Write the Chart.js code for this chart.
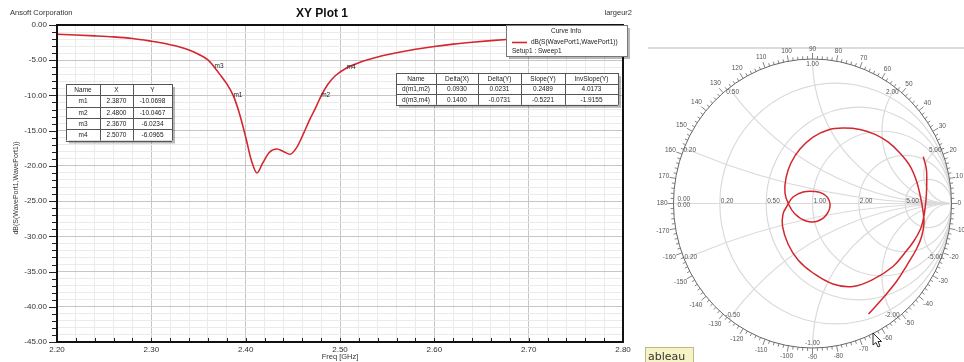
<!DOCTYPE html>
<html>
<head>
<meta charset="utf-8">
<script src="https://cdn.jsdelivr.net/npm/chart.js@4.4.1/dist/chart.umd.min.js"></script>
<style>
  html, body { margin: 0; padding: 0; background: #fff; overflow: hidden; }
  #wrap { position: relative; width: 964px; height: 362px; }
  #xyPlot { position: absolute; left: 0; top: 0; }
  #smith { position: absolute; left: 640px; top: 0; }
</style>
</head>
<body>
<div id="wrap">
  <canvas id="xyPlot" width="640" height="362"></canvas>
  <canvas id="smith" width="324" height="362"></canvas>
</div>
<script>
const FONT = '"Liberation Sans", Arial, sans-serif';

// S11 sweep
const freqGHz = [2.20, 2.22, 2.24, 2.26, 2.28, 2.30, 2.31, 2.32, 2.33, 2.34,
  2.35, 2.36, 2.367, 2.374, 2.38, 2.387, 2.393, 2.40, 2.406, 2.412,
  2.418, 2.425, 2.433, 2.44, 2.447, 2.454, 2.461, 2.468, 2.474, 2.48,
  2.487, 2.495, 2.507, 2.52, 2.54, 2.56, 2.58, 2.60, 2.62, 2.64,
  2.66, 2.68, 2.70, 2.72, 2.74, 2.76, 2.78, 2.80];
const s11dB = [-1.32, -1.42, -1.54, -1.69, -1.92, -2.30, -2.52, -2.80, -3.12, -3.55,
  -4.15, -4.95, -6.0234, -7.25, -8.35, -10.0698, -12.4, -15.9, -19.2, -21.0,
  -19.6, -18.1, -17.6, -17.95, -18.35, -17.4, -15.5, -13.4, -11.8, -10.0467,
  -8.45, -7.2, -6.0965, -5.35, -4.55, -3.95, -3.45, -3.05, -2.72, -2.45,
  -2.22, -2.02, -1.86, -1.73, -1.62, -1.54, -1.47, -1.42];

// markers
const markerNames = ['m1', 'm2', 'm3', 'm4'];
const markerFreq = [2.387, 2.48, 2.367, 2.507];
const markerDB = [-10.0698, -10.0467, -6.0234, -6.0965];

// marker deltas
const deltaHeader = ['Name', 'Delta(X)', 'Delta(Y)', 'Slope(Y)', 'InvSlope(Y)'];
const deltaM1M2 = ['d(m1,m2)', '0.0930', '0.0231', '0.2489', '4.0173'];
const deltaM3M4 = ['d(m3,m4)', '0.1400', '-0.0731', '-0.5221', '-1.9155'];

// axes
const freqRange = [2.2, 2.8];
const dbRange = [-45, 0];
const freqStep = 0.02;

// Smith chart: reflection coefficient along the sweep
const smithRe = [0.797, 0.819, 0.822, 0.819, 0.811, 0.799, 0.777, 0.727, 0.658, 0.579,
  0.442, 0.291, 0.147, 0.004, -0.104, -0.176, -0.216, -0.212, -0.183, -0.140,
  -0.068, 0.018, 0.090, 0.126, 0.104, 0.040, -0.047, -0.126, -0.173, -0.198,
  -0.191, -0.155, -0.090, 0.004, 0.112, 0.219, 0.342, 0.450, 0.543, 0.629,
  0.701, 0.748, 0.777, 0.795, 0.802, 0.784, 0.748, 0.680, 0.604, 0.507, 0.403];
const smithIm = [0.324, 0.239, 0.149, 0.059, -0.024, -0.100, -0.176, -0.263, -0.349, -0.436,
  -0.522, -0.574, -0.557, -0.481, -0.391, -0.280, -0.156, -0.073, -0.017, 0.045,
  0.080, 0.083, 0.059, -0.003, -0.073, -0.121, -0.121, -0.073, -0.003, 0.073,
  0.176, 0.280, 0.377, 0.460, 0.509, 0.522, 0.512, 0.478, 0.426, 0.349,
  0.260, 0.156, 0.045, -0.052, -0.135, -0.232, -0.315, -0.426, -0.540, -0.654, -0.765];
const smithGridValues = [0.2, 0.5, 1, 2, 5];
const smithGridLabels = ['0.20', '0.50', '1.00', '2.00', '5.00'];
const degreeLabels = [180, 170, 160, 150, 140, 130, 120, 110, 100, 90, 80, 70, 60, 50, 40, 30, 20, 10, 0,
  -10, -20, -30, -40, -50, -60, -70, -80, -90, -100, -110, -120, -130, -140, -150, -160, -170];

function hline(ctx, x1, x2, y) {
  ctx.beginPath(); ctx.moveTo(x1, y); ctx.lineTo(x2, y); ctx.stroke();
}
function vline(ctx, x, y1, y2) {
  ctx.beginPath(); ctx.moveTo(x, y1); ctx.lineTo(x, y2); ctx.stroke();
}

function drawTable(ctx, cols, top, rowH, rows) {
  const left = cols[0], right = cols[cols.length - 1];
  const bottom = top + rowH * rows.length;
  ctx.fillStyle = 'rgba(0,0,0,0.28)';
  ctx.fillRect(left + 3, top + 3, right - left, bottom - top);
  ctx.fillStyle = '#fff';
  ctx.fillRect(left, top, right - left, bottom - top);
  ctx.strokeStyle = '#555';
  ctx.lineWidth = 1;
  for (let i = 0; i <= rows.length; i++) hline(ctx, left, right, Math.round(top + i * rowH) + 0.5);
  cols.forEach(c => vline(ctx, Math.round(c) + 0.5, top, bottom));
  ctx.fillStyle = '#222';
  ctx.font = '6.5px ' + FONT;
  ctx.textAlign = 'center';
  ctx.textBaseline = 'middle';
  rows.forEach((row, r) => {
    row.forEach((txt, c) => {
      ctx.fillText(txt, (cols[c] + cols[c + 1]) / 2, top + rowH * (r + 0.5) + 0.5);
    });
  });
}

const isMajorDb = v => v % 5 === 0;
const isMajorFreq = v => Math.abs(v * 10 - Math.round(v * 10)) < 1e-6;

const xyDecor = {
  id: 'xyDecor',
  afterDraw(chart) {
    const { ctx, chartArea: a, scales: { x, y } } = chart;
    ctx.save();

    // axis ticks: outward on the left, inward along the bottom
    ctx.strokeStyle = '#222';
    ctx.lineWidth = 1;
    for (let v = dbRange[0]; v <= dbRange[1]; v++) {
      const py = Math.round(y.getPixelForValue(v)) + 0.5;
      hline(ctx, a.left - (isMajorDb(v) ? 8 : 5), a.left, py);
    }
    const nFreq = Math.round((freqRange[1] - freqRange[0]) / freqStep);
    for (let i = 0; i <= nFreq; i++) {
      const px = Math.round(x.getPixelForValue(freqRange[0] + i * freqStep)) + 0.5;
      vline(ctx, px, a.bottom - 4, a.bottom);
    }

    // plot frame
    ctx.strokeStyle = '#111';
    ctx.lineWidth = 2;
    ctx.strokeRect(a.left, a.top, a.right - a.left, a.bottom - a.top);

    // header texts
    ctx.fillStyle = '#333';
    ctx.textBaseline = 'middle';
    ctx.font = '7.5px ' + FONT;
    ctx.textAlign = 'left';
    ctx.fillText('Ansoft Corporation', 10, 12.5);
    ctx.textAlign = 'right';
    ctx.fillText('largeur2', 632, 12.5);
    ctx.fillStyle = '#111';
    ctx.textAlign = 'center';
    ctx.font = 'bold 12px ' + FONT;
    ctx.fillText('XY Plot 1', 322, 13.5);

    // axis titles
    ctx.fillStyle = '#333';
    ctx.font = '7.5px ' + FONT;
    ctx.fillText('Freq [GHz]', 340, 357);
    ctx.save();
    ctx.translate(16, 188);
    ctx.rotate(-Math.PI / 2);
    ctx.font = '7px ' + FONT;
    ctx.fillText('dB(S(WavePort1,WavePort1))', 0, 0);
    ctx.restore();

    // marker labels on the curve
    ctx.font = '6.5px ' + FONT;
    ctx.textAlign = 'left';
    ctx.fillStyle = '#222';
    markerNames.forEach((name, i) => {
      ctx.fillText(name, x.getPixelForValue(markerFreq[i]), y.getPixelForValue(markerDB[i]) - 1);
    });

    // marker table
    const markerRows = [['Name', 'X', 'Y']].concat(markerNames.map((n, i) =>
      [n, markerFreq[i].toFixed(4), markerDB[i].toFixed(4)]));
    drawTable(ctx, [66, 100, 133, 172], 84, 11.3, markerRows);

    // delta table
    drawTable(ctx, [396, 436, 478, 521, 565, 618], 73, 10.6, [deltaHeader, deltaM1M2, deltaM3M4]);

    // curve info box
    const bx = 506, by = 25, bw = 121, bh = 31;
    ctx.fillStyle = 'rgba(0,0,0,0.28)';
    ctx.fillRect(bx + 3, by + 3, bw, bh);
    ctx.fillStyle = '#fff';
    ctx.fillRect(bx, by, bw, bh);
    ctx.strokeStyle = '#777';
    ctx.lineWidth = 1;
    ctx.strokeRect(bx + 0.5, by + 0.5, bw, bh);
    ctx.fillStyle = '#222';
    ctx.font = '6.5px ' + FONT;
    ctx.textAlign = 'center';
    ctx.fillText('Curve Info', 566, 31.5);
    ctx.textAlign = 'left';
    ctx.fillText('dB(S(WavePort1,WavePort1))', 531, 42.5);
    ctx.fillText('Setup1 : Sweep1', 512, 51);
    ctx.strokeStyle = '#d3262e';
    ctx.lineWidth = 1.6;
    hline(ctx, 512, 527, 42.5);

    ctx.restore();
  }
};

new Chart(document.getElementById('xyPlot'), {
  type: 'scatter',
  data: {
    datasets: [{
      data: freqGHz.map((f, i) => ({ x: f, y: s11dB[i] })),
      showLine: true,
      borderColor: '#d3262e',
      borderWidth: 1.6,
      pointRadius: 0,
      cubicInterpolationMode: 'monotone'
    }]
  },
  options: {
    responsive: false,
    animation: false,
    devicePixelRatio: 1,
    events: [],
    layout: { padding: { left: 0, top: 25, right: 17, bottom: 0 } },
    plugins: { legend: { display: false }, tooltip: { enabled: false } },
    scales: {
      x: {
        type: 'linear',
        min: freqRange[0],
        max: freqRange[1],
        afterFit: s => { s.height = 20; },
        border: { display: false },
        grid: {
          drawTicks: false,
          color: c => (c.tick && isMajorFreq(c.tick.value)) ? '#c6c6c6' : '#ebebeb'
        },
        ticks: {
          stepSize: freqStep,
          maxTicksLimit: 100,
          autoSkip: false,
          maxRotation: 0,
          padding: 3,
          color: '#333',
          font: { family: FONT, size: 8 },
          callback: v => isMajorFreq(v) ? v.toFixed(2) : ''
        }
      },
      y: {
        type: 'linear',
        min: dbRange[0],
        max: dbRange[1],
        afterFit: s => { s.width = 57; },
        border: { display: false },
        grid: {
          drawTicks: false,
          color: c => (c.tick && isMajorDb(c.tick.value)) ? '#c6c6c6' : '#ebebeb'
        },
        ticks: {
          stepSize: 1,
          maxTicksLimit: 100,
          autoSkip: false,
          padding: 10,
          color: '#333',
          font: { family: FONT, size: 8 },
          callback: v => isMajorDb(v) ? v.toFixed(2) : ''
        }
      }
    }
  },
  plugins: [xyDecor]
});

const smithDecor = {
  id: 'smithDecor',
  beforeDatasetsDraw(chart) {
    const { ctx, scales: { x, y } } = chart;
    const cx = x.getPixelForValue(0), cy = y.getPixelForValue(0);
    const rx = x.getPixelForValue(1) - cx, ry = cy - y.getPixelForValue(1);
    ctx.save();

    // separator above the chart
    ctx.strokeStyle = '#dcdcdc';
    ctx.lineWidth = 2;
    hline(ctx, 8, 324, 48);

    // resistance circles and reactance arcs
    ctx.save();
    ctx.beginPath();
    ctx.ellipse(cx, cy, rx, ry, 0, 0, Math.PI * 2);
    ctx.clip();
    ctx.strokeStyle = '#dadada';
    ctx.lineWidth = 1.2;
    smithGridValues.forEach(v => {
      const c = v / (1 + v), rad = 1 / (1 + v);
      ctx.beginPath();
      ctx.ellipse(x.getPixelForValue(c), cy, rad * rx, rad * ry, 0, 0, Math.PI * 2);
      ctx.stroke();
      [1, -1].forEach(s => {
        const xr = 1 / v;
        ctx.beginPath();
        ctx.ellipse(x.getPixelForValue(1), y.getPixelForValue(s * xr), xr * rx, xr * ry, 0, 0, Math.PI * 2);
        ctx.stroke();
      });
    });
    hline(ctx, cx - rx, cx + rx, cy);
    ctx.restore();

    // outer circle with degree ticks
    ctx.strokeStyle = '#666';
    ctx.lineWidth = 1;
    ctx.beginPath();
    ctx.ellipse(cx, cy, rx, ry, 0, 0, Math.PI * 2);
    ctx.stroke();
    ctx.lineWidth = 0.8;
    for (let d = -178; d <= 180; d += 2) {
      const t = d * Math.PI / 180, co = Math.cos(t), si = Math.sin(t);
      const len = d % 10 === 0 ? 6 : 3;
      ctx.beginPath();
      ctx.moveTo(cx + rx * co, cy - ry * si);
      ctx.lineTo(cx + (rx + len) * co, cy - (ry + len) * si);
      ctx.stroke();
    }

    ctx.font = '6.5px ' + FONT;
    ctx.fillStyle = '#555';
    ctx.textAlign = 'center';
    ctx.textBaseline = 'middle';
    degreeLabels.forEach(d => {
      const t = d * Math.PI / 180, co = Math.cos(t), si = Math.sin(t);
      const w = ctx.measureText(String(d)).width;
      const gap = 6 + (w / 2) * Math.abs(co) + 3.5 * Math.abs(si);
      ctx.fillText(String(d), cx + (rx + gap) * co, cy - (ry + gap) * si);
    });

    // resistance labels along the real axis
    ctx.textAlign = 'left';
    ctx.fillText('0.00', cx - rx + 4, cy - 4.5);
    ctx.fillText('0.00', cx - rx + 4, cy + 1.5);
    smithGridValues.forEach((v, i) => {
      const left = x.getPixelForValue((v - 1) / (v + 1));
      ctx.fillText(smithGridLabels[i], left + 1, cy - 2.5);
    });

    // reactance labels where the arcs meet the outer circle
    ctx.textAlign = 'center';
    smithGridValues.forEach((v, i) => {
      [1, -1].forEach(s => {
        const t = s * (Math.PI - 2 * Math.atan(v));
        const co = Math.cos(t), si = Math.sin(t);
        const txt = (s < 0 ? '-' : '') + smithGridLabels[i];
        ctx.fillText(txt, cx + (rx - 6) * co, cy - (ry - 5) * si);
      });
    });
    ctx.restore();
  },
  afterDraw(chart) {
    const { ctx } = chart;
    ctx.save();
    // pointer arrow
    ctx.translate(233, 333);
    ctx.beginPath();
    ctx.moveTo(0, 0); ctx.lineTo(0, 12); ctx.lineTo(3, 9.5); ctx.lineTo(5, 14);
    ctx.lineTo(7, 13); ctx.lineTo(5, 8.5); ctx.lineTo(8.5, 8.5); ctx.closePath();
    ctx.fillStyle = '#fff';
    ctx.fill();
    ctx.strokeStyle = '#111';
    ctx.lineWidth = 0.9;
    ctx.stroke();
    ctx.restore();

    // tooltip strip in the corner
    ctx.save();
    ctx.fillStyle = '#f6f3c4';
    ctx.fillRect(5, 347, 48, 15);
    ctx.strokeStyle = '#bdb88a';
    ctx.lineWidth = 1;
    ctx.strokeRect(5.5, 347.5, 48, 15);
    ctx.fillStyle = '#333';
    ctx.font = '11px "DejaVu Sans", sans-serif';
    ctx.textBaseline = 'alphabetic';
    ctx.fillText('ableau', 8, 360);
    ctx.restore();
  }
};

new Chart(document.getElementById('smith'), {
  type: 'scatter',
  data: {
    datasets: [{
      data: smithRe.map((re, i) => ({ x: re, y: smithIm[i] })),
      showLine: true,
      borderColor: '#d3262e',
      borderWidth: 1.5,
      pointRadius: 0,
      tension: 0.4
    }]
  },
  options: {
    responsive: false,
    animation: false,
    devicePixelRatio: 1,
    events: [],
    layout: { padding: { left: 33.5, right: 12.5, top: 59, bottom: 14 } },
    plugins: { legend: { display: false }, tooltip: { enabled: false } },
    scales: {
      x: { type: 'linear', min: -1, max: 1, display: false },
      y: { type: 'linear', min: -1, max: 1, display: false }
    }
  },
  plugins: [smithDecor]
});
</script>
</body>
</html>
